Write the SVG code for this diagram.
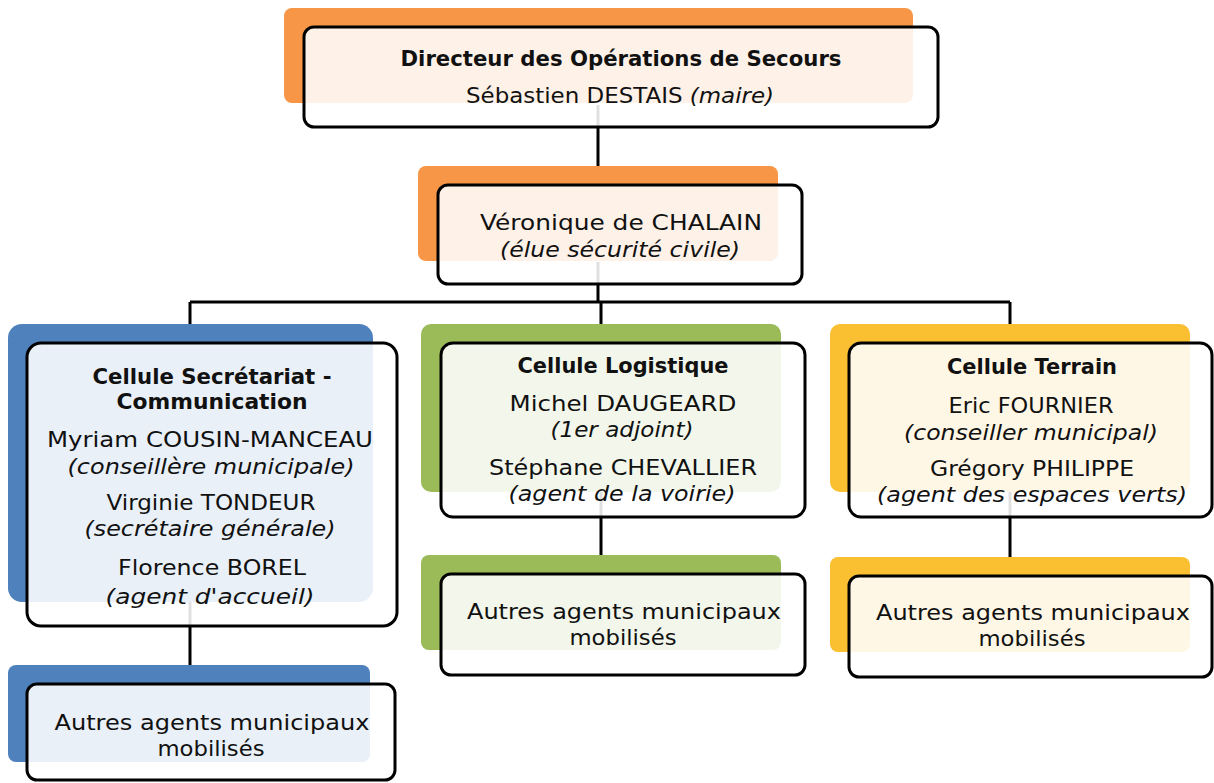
<svg xmlns="http://www.w3.org/2000/svg" width="1214" height="783" viewBox="0 0 1214 783">
<style>
.bg{stroke:none}
.box{fill:#ffffff;fill-opacity:0.88;stroke:#000;stroke-width:3}
.c{fill:none;stroke:#000;stroke-width:3}
text{font-family:"DejaVu Sans","Liberation Sans",sans-serif;font-size:22px;fill:#111;text-anchor:middle}
.b{font-weight:bold;font-size:21px}
.i{font-style:italic}
</style>
<rect width="1214" height="783" fill="#fff"/>
<g id="connectors">
<path class="c" d="M598 105V166"/>
<path class="c" d="M598 262V302"/>
<path class="c" d="M190 302H1010"/>
<path class="c" d="M190 302V326M601 302V326M1010 302V326"/>
<path class="c" d="M190 600V665"/>
<path class="c" d="M601 490V555"/>
<path class="c" d="M1010 490V557"/>
</g>
<g id="n-directeur">
<rect class="bg" x="284" y="8" width="629" height="95" rx="8" fill="#F79646"/>
<rect class="box" x="304" y="27" width="634" height="100" rx="10"/>
<text class="b" x="621" y="66" textLength="441" lengthAdjust="spacingAndGlyphs">Directeur des Opérations de Secours</text>
<text x="620" y="103" textLength="308" lengthAdjust="spacingAndGlyphs">Sébastien DESTAIS <tspan class="i">(maire)</tspan></text>
</g>
<g id="n-chalain">
<rect class="bg" x="418" y="166" width="360" height="95" rx="8" fill="#F79646"/>
<rect class="box" x="438" y="185" width="364" height="99" rx="10"/>
<text x="621" y="230" textLength="282" lengthAdjust="spacingAndGlyphs">Véronique de CHALAIN</text>
<text class="i" x="620" y="257" textLength="240" lengthAdjust="spacingAndGlyphs">(élue sécurité civile)</text>
</g>
<g id="n-secretariat">
<rect class="bg" x="8" y="324" width="365" height="278" rx="14" fill="#4F81BD"/>
<rect class="box" x="27" y="343" width="370" height="283" rx="14"/>
<text class="b" x="212" y="384" textLength="239" lengthAdjust="spacingAndGlyphs">Cellule Secrétariat -</text>
<text class="b" x="212" y="409" textLength="191" lengthAdjust="spacingAndGlyphs">Communication</text>
<text x="210" y="447" textLength="326" lengthAdjust="spacingAndGlyphs">Myriam COUSIN-MANCEAU</text>
<text class="i" x="211" y="474" textLength="287" lengthAdjust="spacingAndGlyphs">(conseillère municipale)</text>
<text x="211" y="510" textLength="209" lengthAdjust="spacingAndGlyphs">Virginie TONDEUR</text>
<text class="i" x="210" y="536" textLength="251" lengthAdjust="spacingAndGlyphs">(secrétaire générale)</text>
<text x="212" y="575" textLength="188" lengthAdjust="spacingAndGlyphs">Florence BOREL</text>
<text class="i" x="210" y="604" textLength="209" lengthAdjust="spacingAndGlyphs">(agent d'accueil)</text>
</g>
<g id="n-autres-secretariat">
<rect class="bg" x="8" y="665" width="362" height="97" rx="8" fill="#4F81BD"/>
<rect class="box" x="27" y="684" width="368" height="96" rx="10"/>
<text x="212" y="730" textLength="315" lengthAdjust="spacingAndGlyphs">Autres agents municipaux</text>
<text x="211" y="756" textLength="107" lengthAdjust="spacingAndGlyphs">mobilisés</text>
</g>
<g id="n-logistique">
<rect class="bg" x="421" y="324" width="360" height="168" rx="10" fill="#9BBB59"/>
<rect class="box" x="441" y="343" width="364" height="174" rx="12"/>
<text class="b" x="623" y="373" textLength="211" lengthAdjust="spacingAndGlyphs">Cellule Logistique</text>
<text x="623" y="411" textLength="227" lengthAdjust="spacingAndGlyphs">Michel DAUGEARD</text>
<text class="i" x="622" y="437" textLength="143" lengthAdjust="spacingAndGlyphs">(1er adjoint)</text>
<text x="623" y="475" textLength="268" lengthAdjust="spacingAndGlyphs">Stéphane CHEVALLIER</text>
<text class="i" x="622" y="501" textLength="227" lengthAdjust="spacingAndGlyphs">(agent de la voirie)</text>
</g>
<g id="n-autres-logistique">
<rect class="bg" x="421" y="555" width="360" height="95" rx="8" fill="#9BBB59"/>
<rect class="box" x="441" y="574" width="364" height="101" rx="10"/>
<text x="624" y="619" textLength="314" lengthAdjust="spacingAndGlyphs">Autres agents municipaux</text>
<text x="623" y="645" textLength="107" lengthAdjust="spacingAndGlyphs">mobilisés</text>
</g>
<g id="n-terrain">
<rect class="bg" x="830" y="324" width="360" height="168" rx="10" fill="#FBBF32"/>
<rect class="box" x="849" y="343" width="363" height="174" rx="12"/>
<text class="b" x="1032" y="374" textLength="170" lengthAdjust="spacingAndGlyphs">Cellule Terrain</text>
<text x="1031" y="413" textLength="165" lengthAdjust="spacingAndGlyphs">Eric FOURNIER</text>
<text class="i" x="1031" y="440" textLength="254" lengthAdjust="spacingAndGlyphs">(conseiller municipal)</text>
<text x="1032" y="476" textLength="204" lengthAdjust="spacingAndGlyphs">Grégory PHILIPPE</text>
<text class="i" x="1032" y="502" textLength="310" lengthAdjust="spacingAndGlyphs">(agent des espaces verts)</text>
</g>
<g id="n-autres-terrain">
<rect class="bg" x="830" y="557" width="360" height="95" rx="8" fill="#FBBF32"/>
<rect class="box" x="849" y="576" width="363" height="101" rx="10"/>
<text x="1033" y="620" textLength="314" lengthAdjust="spacingAndGlyphs">Autres agents municipaux</text>
<text x="1032" y="646" textLength="107" lengthAdjust="spacingAndGlyphs">mobilisés</text>
</g>
</svg>
